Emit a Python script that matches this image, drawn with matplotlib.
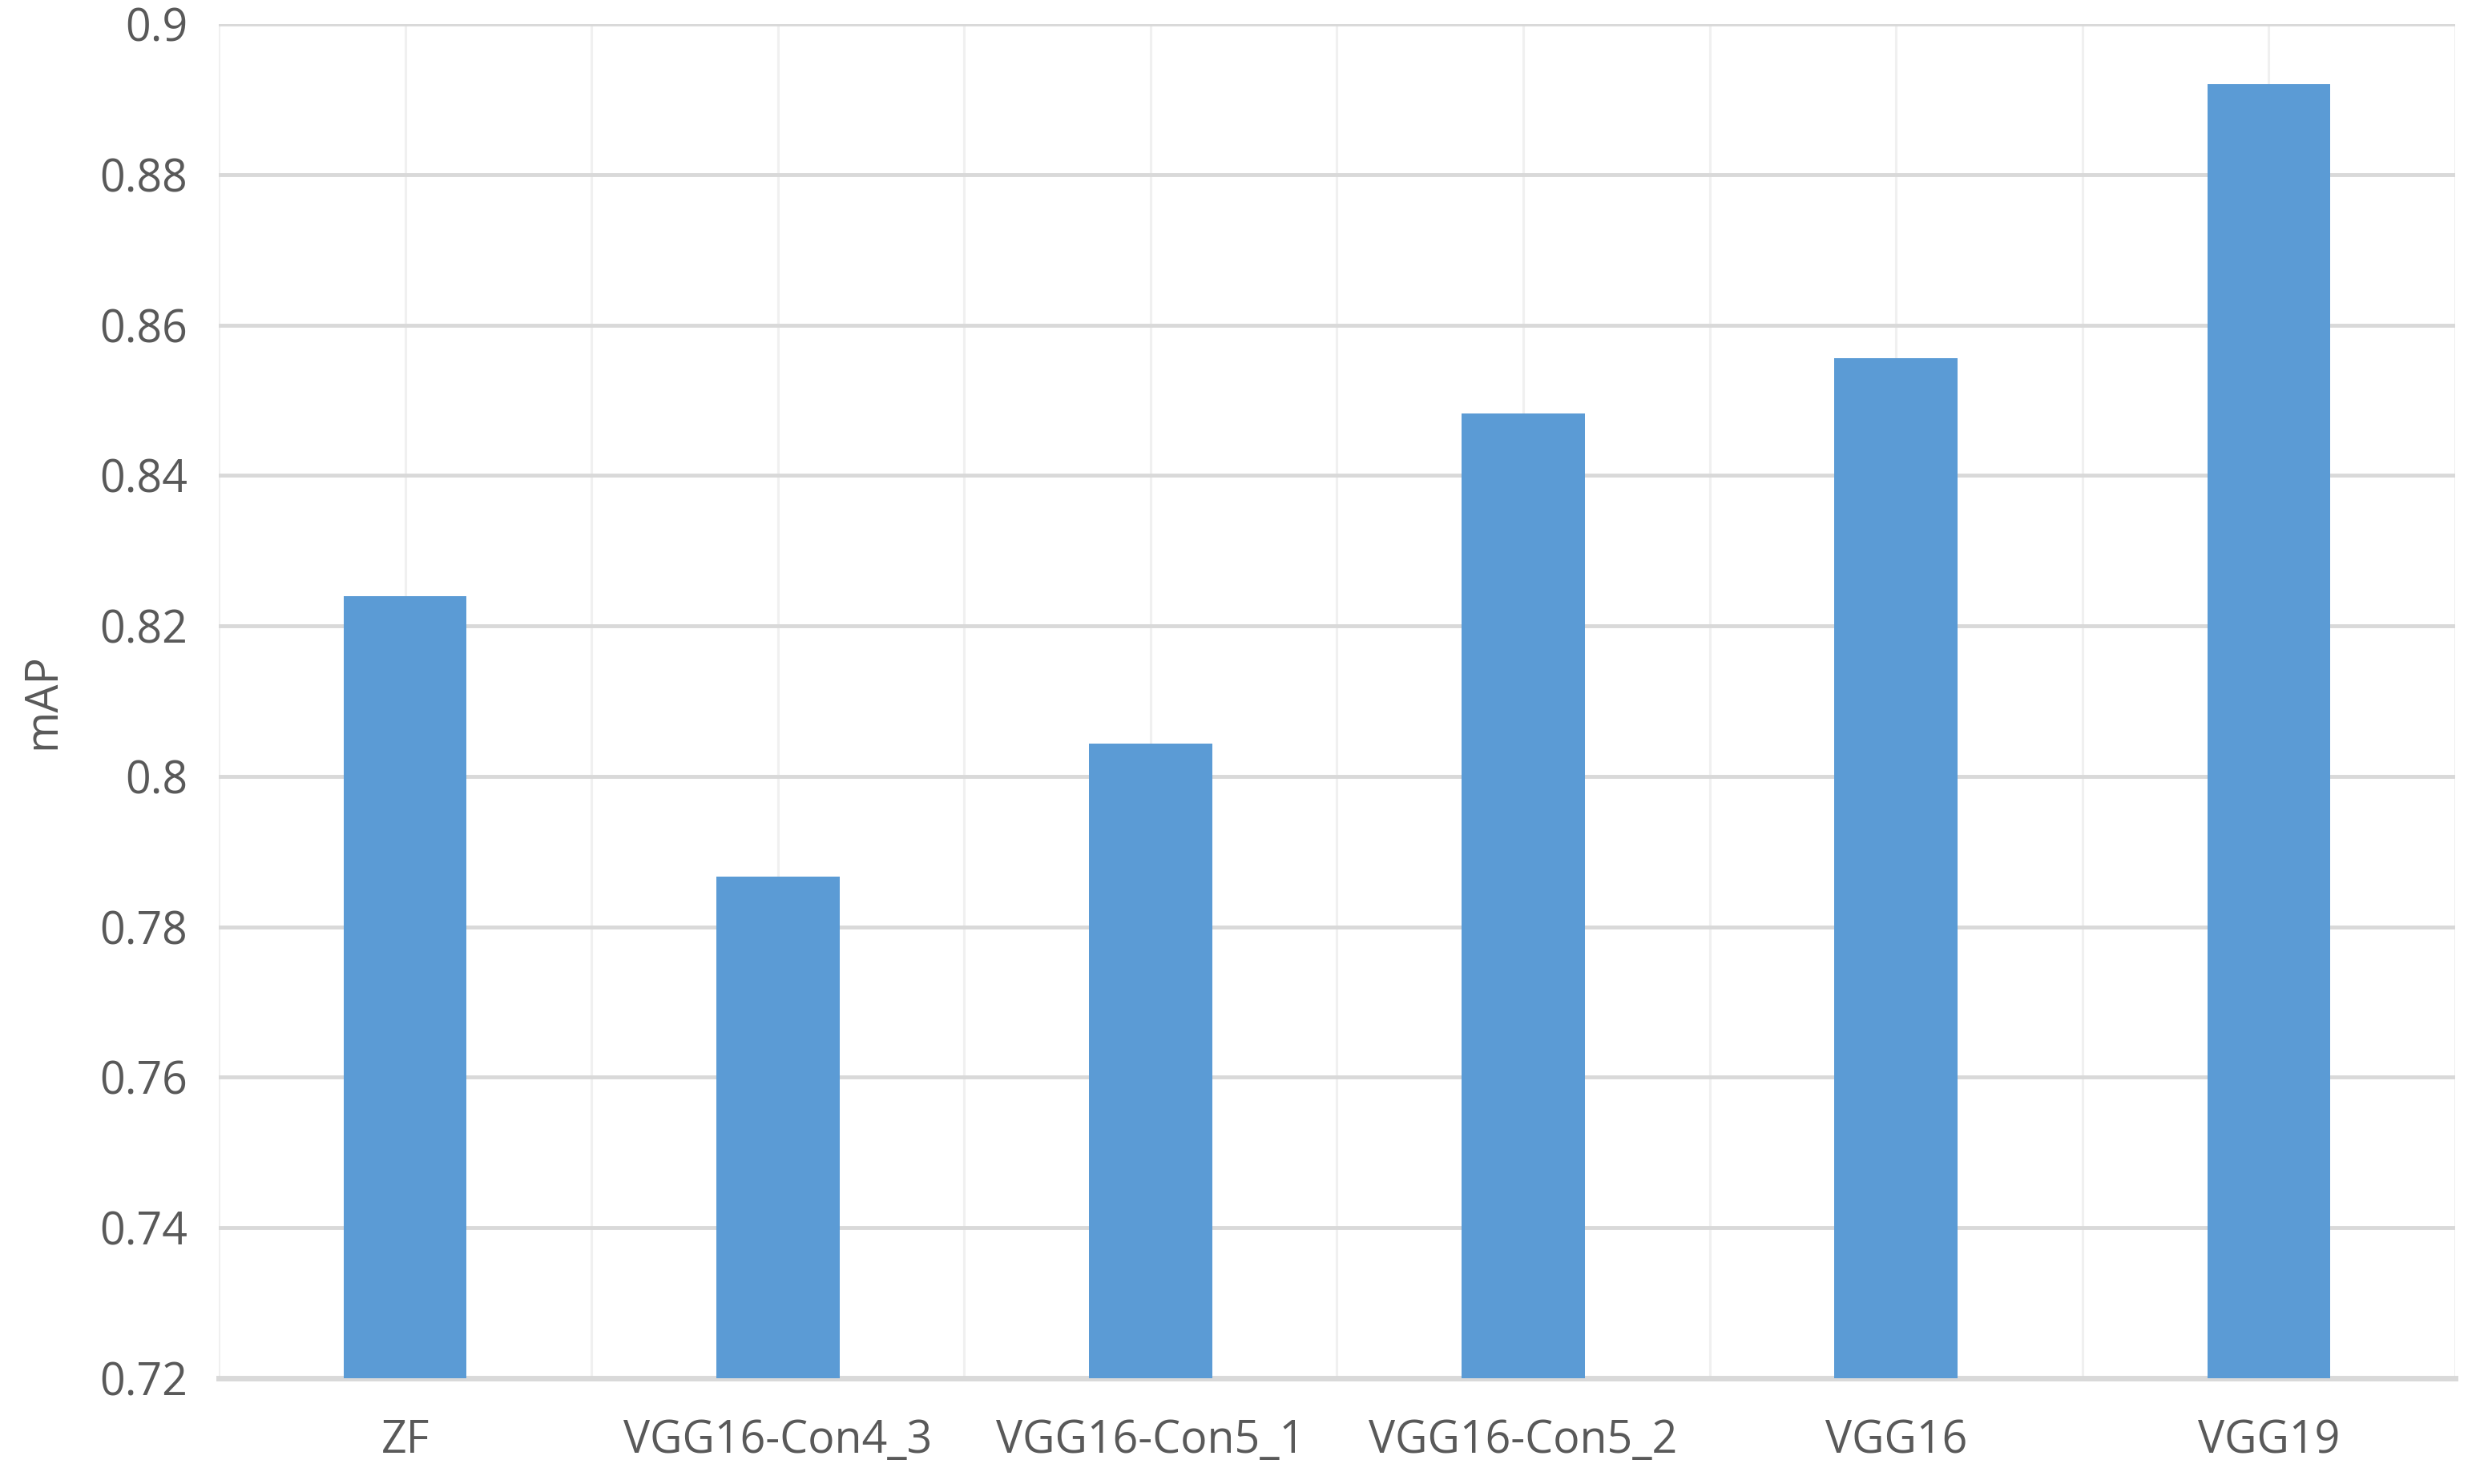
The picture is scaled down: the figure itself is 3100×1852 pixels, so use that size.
import numpy as np
import matplotlib
matplotlib.use("Agg")
import matplotlib.pyplot as plt

models = ["ZF", "VGG16-Con4_3", "VGG16-Con5_1", "VGG16-Con5_2", "VGG16", "VGG19"]
mAP = [0.824, 0.7867, 0.8044, 0.8482, 0.8556, 0.892]
yticks = [0.72, 0.74, 0.76, 0.78, 0.8, 0.82, 0.84, 0.86, 0.88, 0.9]
ytick_labels = ["0.72", "0.74", "0.76", "0.78", "0.8", "0.82", "0.84", "0.86", "0.88", "0.9"]

plt.rcParams["font.family"] = ["Open Sans", "DejaVu Sans"]
text_color = "#595959"

fig = plt.figure(figsize=(31, 18.52), dpi=100)
ax = fig.add_axes([273 / 3100, 1 - 1720 / 1852, (3064 - 273) / 3100, (1720 - 30) / 1852])

x = np.arange(len(models))
ax.bar(x, mAP, width=0.33, bottom=0, color="#5b9bd5", zorder=3)

ax.set_xlim(-0.5, len(models) - 0.5)
ax.set_ylim(0.72, 0.9)
ax.set_yticks(yticks)
ax.set_yticklabels(ytick_labels)
ax.set_xticks(x)
ax.set_xticklabels(models)
ax.set_xticks(np.arange(-0.5, len(models), 1.0), minor=True)

# gridlines
ax.grid(axis="y", color="#d9d9d9", linewidth=3.5, zorder=1)
ax.grid(axis="x", which="both", color="#f0f0f0", linewidth=2.2, zorder=0)
ax.set_axisbelow(True)

for s in ["top", "right", "left"]:
    ax.spines[s].set_visible(False)
ax.spines["bottom"].set_color("#d9d9d9")
ax.spines["bottom"].set_linewidth(5)

ax.tick_params(axis="both", which="both", length=0, colors=text_color, labelsize=40)
ax.tick_params(axis="x", pad=36)
ax.tick_params(axis="y", pad=28)
ax.set_ylabel("mAP", fontsize=40, color=text_color, labelpad=30)

fig.savefig("out.png", dpi=100, facecolor="white")
